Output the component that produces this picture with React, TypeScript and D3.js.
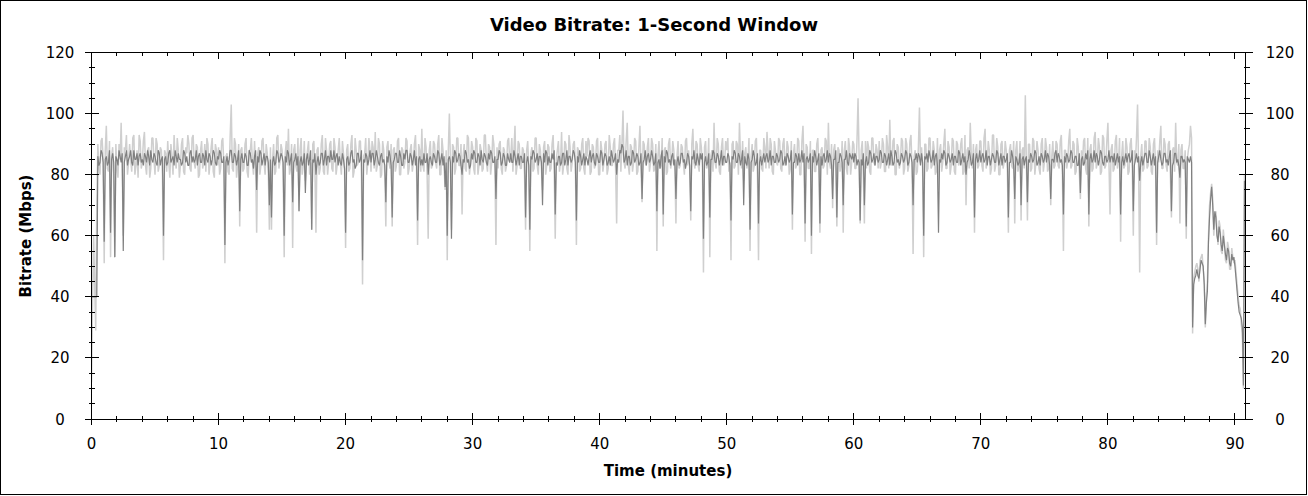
import React from "react";
import * as d3 from "d3";

// Samples every 5 seconds: the "main" arrays hold the values at i*10 s,
// the "mid" arrays hold the values at i*10 s + 5 s. One row per minute.
const SAMPLE_MINUTES = 1 / 6;

const darkSeries: number[] = [
  40,40,40,86,84,87, 58,86,84,61,87,53, 85,88,84,55,86,83, 86,84,88,85,83,87, 85,87,84,86,88,84,
  86,83,87,85,60,86, 84,88,85,83,86,87, 85,84,87,86,83,88, 86,85,83,87,84,86, 88,84,86,85,87,83,
  85,87,84,57,86,85, 88,84,86,85,68,87, 84,86,83,87,85,86, 75,84,87,85,83,86, 70,66,86,84,87,85,
  86,60,84,87,85,71, 85,83,68,86,84,74, 87,85,62,84,80,86, 84,87,85,83,86,88, 85,84,87,86,83,85,
  61,86,84,88,85,83, 87,85,52,84,86,85, 84,87,85,86,83,87, 85,71,84,86,66,85, 87,84,86,83,85,88,
  84,86,85,83,65,86, 85,87,84,80,86,83, 86,84,87,85,83,76, 60,86,59,84,87,85, 86,80,84,87,85,83,
  85,87,84,86,88,84, 86,83,85,87,84,72, 85,87,84,86,83,85, 87,84,86,85,83,86, 84,66,86,62,85,87,
  85,83,86,70,84,87, 86,84,85,67,83,86, 84,87,85,83,86,85, 87,65,84,86,85,83, 85,86,84,87,83,86,
  84,87,85,86,84,83, 86,85,80,84,87,89, 85,83,86,84,87,85, 86,84,72,85,83,87, 85,86,84,68,85,86,
  67,84,87,85,86,83, 72,86,84,87,85,84, 86,68,85,84,87,83, 85,59,86,84,66,85, 87,84,86,85,83,86,
  84,86,65,85,87,84, 86,85,70,84,87,62, 85,86,84,64,86,85, 84,87,85,83,86,84, 86,85,87,84,83,86,
  85,67,84,86,87,85, 84,64,86,85,60,84, 86,85,64,83,87,85, 84,86,72,85,66,84, 86,70,85,84,87,85,
  84,86,85,65,83,70, 86,84,87,85,83,86, 85,87,84,86,85,83, 86,84,87,85,84,86, 85,87,84,86,70,85,
  84,86,87,60,85,84, 86,85,83,87,61,84, 85,87,84,86,85,83, 86,84,87,85,84,80, 85,86,84,66,87,85,
  84,87,85,83,86,85, 86,84,87,85,83,86, 85,66,84,86,72,85, 84,70,86,85,71,84, 86,85,87,84,83,86,
  85,84,86,72,85,87, 84,86,85,67,84,86, 85,87,84,86,83,74, 86,84,85,67,87,85, 84,86,85,87,83,86,
  85,84,86,87,85,84, 67,86,85,84,87,85, 68,85,84,78,86,85, 87,84,86,85,83,61, 86,85,84,87,85,86,
  68,84,87,85,79,86, 85,63,85,86,30,46, 49,46,52,50,31,42, 66,76,62,66,58,61, 55,57,52,55,50,52,
  50,42,35,33,11,76,
];

const darkSeriesMid: number[] = [
  40,40,40,83,88,84, 85,83,88,85,84,86, 83,86,87,84,88,85, 88,83,85,87,86,84, 83,86,88,83,85,87,
  84,88,83,86,85,83, 87,84,86,88,84,85, 83,88,84,83,87,84, 84,88,86,84,87,83, 85,87,83,88,84,86,
  88,84,86,84,83,88, 84,87,83,88,85,84, 87,83,88,84,82,88, 86,88,83,87,86,84, 85,84,83,88,84,87,
  84,86,88,83,87,84, 87,86,84,83,87,85, 83,88,85,87,84,83, 87,83,88,86,84,85, 88,86,83,84,87,82,
  85,83,87,84,82,87, 84,88,85,87,83,88, 87,83,88,84,86,84, 83,86,88,83,84,87, 84,88,83,87,88,84,
  87,83,88,86,85,83, 83,84,87,85,84,87, 84,88,83,87,86,84, 85,84,86,88,84,87, 83,85,88,84,82,87,
  88,84,87,83,85,87, 84,87,88,84,86,85, 88,83,87,83,87,84, 84,88,83,87,86,84, 87,84,83,86,88,84,
  87,86,84,87,88,83, 84,87,88,84,86,83, 87,83,88,86,84,88, 84,86,88,83,87,86, 83,88,86,84,87,84,
  88,83,87,83,86,88, 84,87,85,88,90,84, 88,86,83,88,84,87, 83,87,84,88,86,84, 88,83,87,84,82,88,
  86,88,84,83,87,85, 84,83,87,84,82,87, 83,86,88,83,85,87, 87,84,83,87,85,88, 84,87,83,88,86,84,
  87,83,86,88,84,87, 83,88,86,83,85,84, 88,83,87,84,83,87, 86,84,88,86,84,87, 84,88,83,86,87,84,
  88,84,87,83,84,88, 87,85,84,87,86,88, 83,87,86,86,84,88, 87,83,85,88,84,87, 84,85,88,83,86,87,
  87,83,84,85,87,84, 83,88,84,87,86,84, 88,84,87,83,87,88, 83,88,84,83,87,84, 88,83,87,84,85,87,
  87,83,84,86,87,88, 84,88,86,83,85,87, 88,83,87,84,87,86, 84,88,83,87,86,84, 88,83,87,85,84,88,
  86,84,88,86,83,87, 84,88,83,87,86,84, 87,84,88,83,86,83, 87,85,83,86,85,87, 84,88,83,86,87,84,
  88,87,83,85,84,88, 87,84,83,86,87,84, 88,84,86,83,87,85, 83,87,88,85,84,88, 87,83,88,84,86,84,
  88,86,84,83,87,86, 84,83,87,86,84,88, 83,87,86,84,83,87, 84,88,83,87,86,84, 88,83,87,84,83,88,
  83,87,84,83,86,84, 84,86,84,84,44,47, 47,49,51,44,38,58, 72,70,68,60,63,57, 60,54,56,51,54,53,
  46,38,34,30,78,
];

const lightSeries: number[] = [
  12,60,29,90,80,92, 51,96,81,53,89,53, 82,90,97,60,88,80, 90,81,93,83,79,91, 84,94,80,89,82,92,
  80,90,83,88,52,87, 91,79,86,93,82,88, 83,92,80,87,90,81, 93,82,89,80,91,84, 81,90,84,92,79,88,
  89,82,92,51,87,80, 103,81,90,83,63,89, 82,92,79,88,84,91, 61,89,83,92,80,87, 62,62,90,81,93,84,
  88,53,91,95,82,56, 90,81,68,92,83,78, 88,80,62,91,61,89, 82,93,80,88,84,91, 81,89,83,92,80,87,
  56,90,82,93,81,88, 84,91,44,87,80,92, 81,89,94,83,90,80, 88,63,91,82,63,89, 83,92,80,88,84,91,
  82,90,84,93,57,88, 95,81,89,59,91,83, 90,82,93,80,88,75, 52,100,62,89,82,92, 83,67,90,81,92,84,
  89,80,91,83,88,82, 93,81,89,84,90,57, 82,91,80,88,83,92, 86,81,96,83,90,82, 88,62,91,55,89,82,
  92,80,88,75,91,83, 89,82,93,59,88,81, 94,83,90,80,89,84, 91,57,88,82,92,80, 86,91,81,89,83,92,
  80,88,84,91,82,89, 83,92,64,88,81,101, 82,97,80,89,84,91, 81,96,71,90,83,92, 84,90,82,55,91,83,
  63,89,81,92,84,88, 64,91,83,89,80,92, 88,65,95,82,90,81, 89,48,91,83,53,88, 97,82,90,80,92,84,
  88,81,52,91,83,90, 97,82,78,89,84,55, 90,83,92,52,88,81, 89,94,82,90,80,88, 83,91,81,92,84,89,
  82,62,90,83,91,80, 96,58,89,82,54,88, 81,92,61,89,83,91, 97,82,69,90,63,88, 83,61,91,80,89,84,
  90,82,105,64,91,64, 82,89,80,92,83,88, 91,84,90,81,89,98, 83,92,80,89,84,91, 82,90,83,93,54,88,
  81,102,89,53,90,82, 92,83,88,81,75,90, 84,95,82,89,83,91, 80,90,84,92,81,70, 89,97,82,61,90,83,
  91,81,95,84,88,82, 93,83,89,80,91,84, 88,61,90,82,64,91, 83,65,89,106,65,90, 82,91,84,88,80,92,
  84,89,82,70,91,83, 90,82,93,55,88,84, 95,83,90,81,89,72, 83,92,80,63,90,82, 94,84,89,81,92,83,
  97,67,90,82,93,84, 58,91,83,89,81,92, 60,84,103,48,90,82, 91,83,89,80,92,57, 84,96,82,90,81,91,
  66,89,97,83,64,90, 82,59,88,96,28,48, 51,45,53,49,30,45, 70,77,60,68,57,63, 54,58,51,56,49,53,
  52,44,37,31,10,78,
];

const lightSeriesMid: number[] = [
  38,44,70,82,91,85, 88,82,91,86,80,90, 79,85,82,89,93,84, 85,92,80,88,93,82, 91,83,88,79,92,85,
  92,81,89,80,88,81, 84,90,80,85,92,79, 90,81,89,93,82,92, 84,90,79,88,82,90, 92,80,89,81,90,83,
  80,91,83,86,81,93, 82,92,79,90,88,81, 90,81,88,92,80,83, 87,80,91,84,90,81, 89,85,80,92,82,90,
  81,87,83,80,90,88, 83,92,88,80,91,85, 91,84,90,82,88,80, 90,81,92,80,90,82, 92,80,88,84,91,82,
  88,81,90,79,92,83, 91,80,86,92,84,88, 91,82,81,92,79,91, 80,89,84,90,88,81, 91,80,89,82,92,80,
  88,81,90,82,90,81, 83,92,80,88,82,91, 84,90,80,92,83,88, 88,85,90,80,92,83, 90,86,82,93,80,91,
  82,92,80,90,81,93, 84,90,80,93,82,89, 90,82,89,81,91,84, 92,88,80,91,82,89, 80,88,83,87,81,92,
  83,90,82,89,80,90, 81,90,82,85,91,84, 80,91,82,93,81,90, 84,89,81,90,82,91, 92,80,90,82,91,80,
  91,81,90,80,93,83, 90,82,88,93,90,84, 91,83,90,81,92,80, 89,82,91,84,89,81, 92,81,90,86,82,92,
  88,80,90,82,91,81, 86,82,90,84,91,83, 82,90,84,91,83,92, 83,89,82,92,86,81, 84,92,81,89,83,91,
  92,84,90,82,91,80, 86,91,87,82,92,86, 81,91,80,88,82,92, 82,88,92,81,91,84, 92,82,90,83,91,80,
  91,87,82,92,80,91, 83,90,82,91,88,81, 90,83,88,82,92,80, 84,90,88,82,89,81, 91,88,82,92,80,91,
  82,91,86,88,80,91, 91,81,92,84,90,82, 82,92,81,93,82,84, 91,80,90,82,92,80, 92,81,91,82,86,80,
  89,84,82,90,81,92, 82,91,80,92,88,81, 90,82,91,80,92,81, 91,83,90,80,93,88, 82,86,90,88,82,91,
  83,92,82,91,80,93, 81,92,80,90,82,91, 82,88,83,91,88,81, 91,88,82,84,90,81, 92,80,91,82,90,81,
  92,81,90,86,82,91, 83,91,81,88,82,91, 82,91,80,92,81,88, 91,82,92,88,81,92, 82,92,80,93,82,91,
  84,88,81,91,82,92, 86,82,92,80,90,83, 88,92,82,86,81,91, 82,92,81,90,83,88, 91,82,92,83,90,80,
  88,81,84,90,88,82, 88,85,90,92,46,50, 49,52,54,45,40,60, 74,72,66,62,65,55, 62,52,58,49,56,51,
  48,40,36,28,80,
];

const xTickValues = [0, 10, 20, 30, 40, 50, 60, 70, 80, 90];
const yTickValues = [0, 20, 40, 60, 80, 100, 120];
const chartTitle = "Video Bitrate: 1-Second Window";
const xAxisTitle = "Time (minutes)";
const yAxisTitle = "Bitrate (Mbps)";

const FONT = "'DejaVu Sans', Verdana, sans-serif";

function combine(main: number[], mid: number[]): [number, number][] {
  const out: [number, number][] = [];
  main.forEach((v, i) => {
    out.push([i * SAMPLE_MINUTES, v]);
    if (i < mid.length) out.push([i * SAMPLE_MINUTES + SAMPLE_MINUTES / 2, mid[i]]);
  });
  return out;
}

export default function App() {
  const W = 1308;
  const H = 496;
  const left = 91.5, right = 1245.5, top = 52.5, bottom = 419;
  const x = d3.scaleLinear().domain([0, 90.83]).range([left, right]);
  const y = d3.scaleLinear().domain([0, 120]).range([bottom, top]);

  const line = d3
    .line<[number, number]>()
    .x((d) => x(d[0]))
    .y((d) => y(d[1]));

  const darkData = combine(darkSeries, darkSeriesMid);
  const lightData = combine(lightSeries, lightSeriesMid);

  const xMinor = d3.range(0, 91, 2).filter((v) => v % 10 !== 0);
  const yMinor = d3.range(0, 121, 5).filter((v) => v % 20 !== 0);

  return (
    <div style={{ position: "absolute", left: 0, top: 0 }}>
      <svg width={W} height={H} style={{ display: "block", background: "#fff" }}>
        <rect x={0.5} y={0.5} width={W - 2} height={H - 2} fill="#fff" stroke="#000" strokeWidth={1} />
        <defs>
          <clipPath id="plot">
            <rect x={left} y={top} width={right - left} height={bottom - top} />
          </clipPath>
        </defs>
        <g clipPath="url(#plot)">
          <path d={line(lightData) || ""} fill="none" stroke="#cfcfcf" strokeWidth={1.5} strokeLinejoin="bevel" />
          <path d={line(darkData) || ""} fill="none" stroke="#808080" strokeWidth={1.2} strokeLinejoin="bevel" />
        </g>
        <g stroke="#000" strokeWidth={1} shapeRendering="crispEdges">
          <rect x={left} y={top} width={right - left} height={bottom - top} fill="none" />
          {xTickValues.map((v) => (
            <g key={"xm" + v}>
              <line x1={x(v)} x2={x(v)} y1={bottom - 6} y2={bottom + 6} />
              <line x1={x(v)} x2={x(v)} y1={top} y2={top + 6} />
            </g>
          ))}
          {xMinor.map((v) => (
            <g key={"xn" + v}>
              <line x1={x(v)} x2={x(v)} y1={bottom - 3} y2={bottom + 3} />
              <line x1={x(v)} x2={x(v)} y1={top} y2={top + 3} />
            </g>
          ))}
          {yTickValues.map((v) => (
            <g key={"ym" + v}>
              <line x1={left - 7} x2={left + 7} y1={y(v)} y2={y(v)} />
              <line x1={right - 7} x2={right + 7} y1={y(v)} y2={y(v)} />
            </g>
          ))}
          {yMinor.map((v) => (
            <g key={"yn" + v}>
              <line x1={left - 3} x2={left + 3} y1={y(v)} y2={y(v)} />
              <line x1={right - 2} x2={right + 4} y1={y(v)} y2={y(v)} />
            </g>
          ))}
        </g>
        <g fontFamily={FONT} fontSize={15} fill="#000">
          {xTickValues.map((v) => (
            <text key={"xl" + v} x={x(v)} y={449} textAnchor="middle">{v}</text>
          ))}
          {yTickValues.map((v) => (
            <g key={"yl" + v}>
              <text x={60} y={y(v) + 5.5} textAnchor="middle">{v}</text>
              <text x={1280} y={y(v) + 5.5} textAnchor="middle">{v}</text>
            </g>
          ))}
        </g>
        <text x={654} y={31} textAnchor="middle" fontFamily={FONT} fontSize={18} fontWeight="bold">
          {chartTitle}
        </text>
        <text x={668} y={476} textAnchor="middle" fontFamily={FONT} fontSize={15} fontWeight="bold">
          {xAxisTitle}
        </text>
        <text
          transform={`translate(31,236) rotate(-90)`}
          textAnchor="middle"
          fontFamily={FONT}
          fontSize={15}
          fontWeight="bold"
        >
          {yAxisTitle}
        </text>
      </svg>
    </div>
  );
}
